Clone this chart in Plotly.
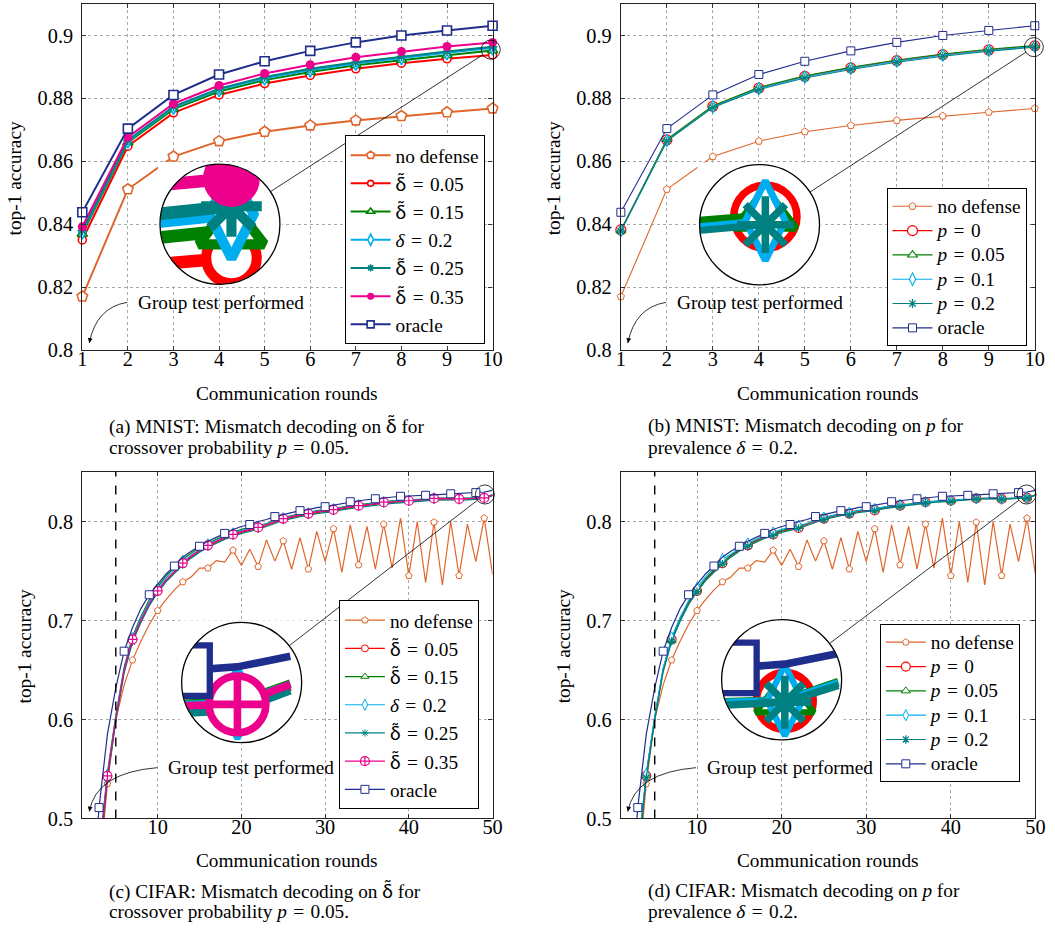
import numpy as np
import plotly.graph_objects as go

W, H = 1055, 928
FONT = "Liberation Serif"
# the page is photographed slightly reduced; layout positions are pre-compensated
S, OX = 0.986, 6.0

# ---------------------------------------------------------------- data
rounds_mnist = list(range(1, 11))
mnist_ticks_x = list(range(1, 11))
mnist_ticks_y = [0.8, 0.82, 0.84, 0.86, 0.88, 0.9]
mnist_ticks_y_text = ["0.8", "0.82", "0.84", "0.86", "0.88", "0.9"]

mnist_no_defense = [0.8170, 0.8511, 0.8615, 0.8664, 0.8694, 0.8714, 0.8730, 0.8744, 0.8756, 0.8768]
mnist_oracle = [0.8438, 0.8704, 0.8811, 0.8876, 0.8918, 0.8951, 0.8978, 0.9000, 0.9016, 0.9031]
mnist_dt005 = [0.8350, 0.8648, 0.8754, 0.8811, 0.8847, 0.8873, 0.8894, 0.8912, 0.8926, 0.8938]
mnist_dt015 = [0.8369, 0.8660, 0.8766, 0.8822, 0.8858, 0.8884, 0.8905, 0.8922, 0.8937, 0.8952]
mnist_d02 = [0.8375, 0.8664, 0.8771, 0.8828, 0.8864, 0.8890, 0.8911, 0.8929, 0.8945, 0.8960]
mnist_dt025 = [0.8380, 0.8667, 0.8774, 0.8831, 0.8868, 0.8894, 0.8915, 0.8933, 0.8949, 0.8964]
mnist_dt035 = [0.8392, 0.8677, 0.8783, 0.8841, 0.8879, 0.8907, 0.8931, 0.8949, 0.8965, 0.8978]

mnist_p0 = [0.8382, 0.8668, 0.8775, 0.8833, 0.8870, 0.8897, 0.8920, 0.8939, 0.8954, 0.8967]
mnist_p005 = [0.8380, 0.8670, 0.8777, 0.8835, 0.8872, 0.8899, 0.8922, 0.8941, 0.8956, 0.8968]
mnist_p01 = [0.8379, 0.8666, 0.8773, 0.8831, 0.8868, 0.8895, 0.8918, 0.8937, 0.8952, 0.8965]
mnist_p02 = [0.8378, 0.8664, 0.8771, 0.8828, 0.8865, 0.8892, 0.8915, 0.8934, 0.8950, 0.8963]

rounds_cifar = list(range(1, 51))
cifar_ticks_x = [10, 20, 30, 40, 50]
cifar_ticks_y = [0.5, 0.6, 0.7, 0.8]
cifar_ticks_y_text = ["0.5", "0.6", "0.7", "0.8"]

cifar_no_defense = [0.150, 0.330, 0.440, 0.535, 0.600, 0.635, 0.660, 0.679, 0.696, 0.710,
                    0.721, 0.731, 0.739, 0.744, 0.753, 0.753, 0.7605, 0.759, 0.771, 0.7555,
                    0.772, 0.7545, 0.7814, 0.760, 0.7804, 0.7518, 0.7838, 0.752, 0.790, 0.7595,
                    0.7926, 0.7487, 0.7966, 0.7561, 0.795, 0.752, 0.7973, 0.7528, 0.8034, 0.7453,
                    0.800, 0.7386, 0.7993, 0.7359, 0.800, 0.7453, 0.7973, 0.7595, 0.8034, 0.7464]
cifar_oracle = [0.220, 0.400, 0.511, 0.585, 0.632, 0.669, 0.693, 0.712, 0.726, 0.737,
                0.747, 0.755, 0.764, 0.770, 0.775, 0.780, 0.784, 0.788, 0.792, 0.795,
                0.797, 0.800, 0.802, 0.805, 0.807, 0.809, 0.811, 0.812, 0.814, 0.815,
                0.8165, 0.818, 0.820, 0.821, 0.822, 0.823, 0.824, 0.825, 0.8255, 0.8258,
                0.826, 0.8265, 0.827, 0.8275, 0.828, 0.8283, 0.8286, 0.8292, 0.8298, 0.8315]
cifar_dt005 = [0.150, 0.330, 0.458, 0.541, 0.600, 0.649, 0.680, 0.699, 0.716, 0.729,
               0.740, 0.749, 0.757, 0.764, 0.770, 0.775, 0.779, 0.783, 0.786, 0.789,
               0.791, 0.793, 0.796, 0.799, 0.802, 0.804, 0.806, 0.807, 0.809, 0.810,
               0.811, 0.8128, 0.8142, 0.8152, 0.8163, 0.8173, 0.8188, 0.8193, 0.8198, 0.8204,
               0.8213, 0.8218, 0.8226, 0.8226, 0.8226, 0.8222, 0.8227, 0.8231, 0.8233, 0.8266]
cifar_dt015 = [0.160, 0.340, 0.465, 0.546, 0.604, 0.653, 0.684, 0.704, 0.721, 0.734,
               0.745, 0.754, 0.762, 0.768, 0.774, 0.778, 0.782, 0.786, 0.789, 0.792,
               0.794, 0.796, 0.798, 0.801, 0.804, 0.806, 0.808, 0.809, 0.811, 0.812,
               0.813, 0.8145, 0.816, 0.817, 0.818, 0.819, 0.8203, 0.8208, 0.8212, 0.8216,
               0.8225, 0.823, 0.8237, 0.8236, 0.8236, 0.8233, 0.8236, 0.824, 0.8242, 0.8272]
cifar_d02 = [0.155, 0.335, 0.462, 0.544, 0.602, 0.651, 0.682, 0.702, 0.719, 0.732,
             0.743, 0.752, 0.760, 0.766, 0.772, 0.777, 0.781, 0.785, 0.788, 0.791,
             0.793, 0.795, 0.7975, 0.8005, 0.8035, 0.8055, 0.8075, 0.8085, 0.8105, 0.8115,
             0.8125, 0.814, 0.8155, 0.8165, 0.8175, 0.8185, 0.8198, 0.8203, 0.8208, 0.8213,
             0.8222, 0.8227, 0.8235, 0.8234, 0.8234, 0.823, 0.8234, 0.8238, 0.824, 0.827]
cifar_dt025 = [0.148, 0.325, 0.455, 0.539, 0.598, 0.647, 0.678, 0.698, 0.715, 0.728,
               0.739, 0.748, 0.756, 0.763, 0.769, 0.774, 0.778, 0.782, 0.785, 0.788,
               0.790, 0.792, 0.795, 0.798, 0.801, 0.803, 0.805, 0.806, 0.808, 0.809,
               0.810, 0.8118, 0.8133, 0.8143, 0.8153, 0.8163, 0.8178, 0.8183, 0.8188, 0.8193,
               0.8203, 0.8208, 0.8216, 0.8216, 0.8217, 0.8214, 0.8219, 0.8224, 0.8228, 0.826]
cifar_dt035 = [0.150, 0.330, 0.460, 0.543, 0.601, 0.650, 0.681, 0.700, 0.717, 0.730,
               0.741, 0.750, 0.758, 0.765, 0.771, 0.776, 0.780, 0.784, 0.787, 0.790,
               0.792, 0.794, 0.797, 0.800, 0.803, 0.805, 0.807, 0.808, 0.810, 0.811,
               0.812, 0.8135, 0.815, 0.816, 0.817, 0.818, 0.8195, 0.820, 0.8205, 0.821,
               0.822, 0.8225, 0.8233, 0.8232, 0.8232, 0.8228, 0.8232, 0.8236, 0.8238, 0.827]

cifar_p0 = [0.152, 0.332, 0.460, 0.543, 0.601, 0.650, 0.681, 0.701, 0.718, 0.730,
            0.741, 0.750, 0.758, 0.765, 0.771, 0.776, 0.780, 0.784, 0.787, 0.790,
            0.792, 0.7935, 0.797, 0.800, 0.803, 0.805, 0.807, 0.808, 0.810, 0.811,
            0.8112, 0.8135, 0.815, 0.816, 0.817, 0.818, 0.8195, 0.820, 0.8205, 0.821,
            0.822, 0.8225, 0.8233, 0.8232, 0.8232, 0.8228, 0.8232, 0.8236, 0.8239, 0.8268]
cifar_p005 = [0.155, 0.334, 0.461, 0.544, 0.602, 0.651, 0.680, 0.702, 0.719, 0.731,
              0.742, 0.751, 0.759, 0.766, 0.772, 0.777, 0.781, 0.785, 0.788, 0.791,
              0.793, 0.795, 0.798, 0.801, 0.804, 0.806, 0.808, 0.809, 0.811, 0.812,
              0.8125, 0.8142, 0.8155, 0.8165, 0.8175, 0.8185, 0.8198, 0.8203, 0.8208, 0.8213,
              0.8222, 0.8227, 0.8235, 0.8234, 0.8234, 0.823, 0.8234, 0.8238, 0.8241, 0.827]
cifar_p01 = [0.158, 0.338, 0.464, 0.545, 0.603, 0.652, 0.683, 0.703, 0.720, 0.733,
             0.744, 0.753, 0.762, 0.767, 0.773, 0.778, 0.782, 0.786, 0.789, 0.792,
             0.794, 0.796, 0.798, 0.801, 0.804, 0.806, 0.808, 0.809, 0.811, 0.812,
             0.8128, 0.8145, 0.8158, 0.8168, 0.8172, 0.8182, 0.8196, 0.8203, 0.8208, 0.8212,
             0.822, 0.8226, 0.8233, 0.8233, 0.8233, 0.8229, 0.8233, 0.8237, 0.8240, 0.8268]
cifar_p02 = [0.150, 0.328, 0.458, 0.541, 0.599, 0.648, 0.679, 0.699, 0.716, 0.729,
             0.740, 0.749, 0.757, 0.764, 0.770, 0.775, 0.779, 0.783, 0.786, 0.789,
             0.791, 0.793, 0.796, 0.799, 0.802, 0.804, 0.806, 0.807, 0.809, 0.810,
             0.811, 0.8128, 0.8143, 0.8153, 0.8163, 0.8173, 0.8188, 0.8193, 0.8198, 0.8203,
             0.8213, 0.8218, 0.8228, 0.8228, 0.8228, 0.8225, 0.8229, 0.8233, 0.8237, 0.8264]

EQ = "\u2004=\u2004"
DT = "<span style=\"font-family:Lato\">δ̃</span>"
labels_delta = ["no defense", f"{DT}{EQ}0.05", f"{DT}{EQ}0.15", f"<i>δ</i>{EQ}0.2",
                f"{DT}{EQ}0.25", f"{DT}{EQ}0.35", "oracle"]
labels_p = ["no defense", f"<i>p</i>{EQ}0", f"<i>p</i>{EQ}0.05", f"<i>p</i>{EQ}0.1", f"<i>p</i>{EQ}0.2",
            "oracle"]

captions = [
    [f"(a) MNIST: Mismatch decoding on {DT} for", f"crossover probability <i>p</i>{EQ}0.05."],
    ["(b) MNIST: Mismatch decoding on <i>p</i> for", f"prevalence <i>δ</i>{EQ}0.2."],
    [f"(c) CIFAR: Mismatch decoding on {DT} for", f"crossover probability <i>p</i>{EQ}0.05."],
    ["(d) CIFAR: Mismatch decoding on <i>p</i> for", f"prevalence <i>δ</i>{EQ}0.2."],
]

# ---------------------------------------------------------------- styles
C_ORANGE = "#E0652B"
C_RED = "#FF0000"
C_GREEN = "#008000"
C_CYAN = "#00AEEF"
C_TEAL = "#008080"
C_PINK = "#EC008C"
C_NAVY = "#1F2D8C"
TXT = 19.3


def sty(color, symbol, size, lw, mlw, phase=0, filled=False, lsize=None):
    return dict(color=color, symbol=symbol, size=size, lw=lw, mlw=mlw, phase=phase, filled=filled,
                lsize=lsize if lsize is not None else size)


series_a = [
    (labels_delta[0], mnist_no_defense, sty(C_ORANGE, "pentagon", 11, 2.0, 1.6, lsize=8)),
    (labels_delta[1], mnist_dt005, sty(C_RED, "circle", 8, 2.0, 1.6, lsize=6)),
    (labels_delta[2], mnist_dt015, sty(C_GREEN, "triangle-up", 9, 2.0, 1.6, lsize=7)),
    (labels_delta[3], mnist_d02, sty(C_CYAN, "diamond-tall", 10, 2.0, 1.6, lsize=8)),
    (labels_delta[4], mnist_dt025, sty(C_TEAL, "asterisk-open", 8, 2.0, 1.6, lsize=6)),
    (labels_delta[5], mnist_dt035, sty(C_PINK, "circle", 9, 2.0, 1.6, filled=True, lsize=7)),
    (labels_delta[6], mnist_oracle, sty(C_NAVY, "square", 9, 2.0, 1.6, lsize=7)),
]
series_b = [
    (labels_p[0], mnist_no_defense, sty(C_ORANGE, "pentagon", 7.5, 1.1, 1.0)),
    (labels_p[1], mnist_p0, sty(C_RED, "circle", 10, 1.1, 1.2)),
    (labels_p[2], mnist_p005, sty(C_GREEN, "triangle-up", 8.5, 1.1, 1.1)),
    (labels_p[3], mnist_p01, sty(C_CYAN, "diamond-tall", 9, 1.1, 1.1)),
    (labels_p[4], mnist_p02, sty(C_TEAL, "asterisk-open", 7.5, 1.1, 1.2)),
    (labels_p[5], mnist_oracle, sty(C_NAVY, "square", 8, 1.1, 1.0)),
]
series_c = [
    (labels_delta[0], cifar_no_defense, sty(C_ORANGE, "pentagon", 7, 1.2, 1.0, 0)),
    (labels_delta[1], cifar_dt005, sty(C_RED, "circle", 7, 1.2, 1.0, 0)),
    (labels_delta[2], cifar_dt015, sty(C_GREEN, "triangle-up", 7, 1.2, 1.0, 0)),
    (labels_delta[3], cifar_d02, sty(C_CYAN, "diamond-tall", 8, 1.2, 1.0, 0)),
    (labels_delta[4], cifar_dt025, sty(C_TEAL, "asterisk-open", 6, 1.2, 1.0, 0)),
    (labels_delta[5], cifar_dt035, sty(C_PINK, "circle-cross", 9, 1.2, 1.2, 0)),
    (labels_delta[6], cifar_oracle, sty(C_NAVY, "square", 8, 1.2, 1.0, 2)),
]
series_d = [
    (labels_p[0], cifar_no_defense, sty(C_ORANGE, "pentagon", 7, 1.2, 1.0, 0)),
    (labels_p[1], cifar_p0, sty(C_RED, "circle", 9, 1.2, 1.2, 0)),
    (labels_p[2], cifar_p005, sty(C_GREEN, "triangle-up", 8, 1.2, 1.0, 0)),
    (labels_p[3], cifar_p01, sty(C_CYAN, "diamond-tall", 8, 1.2, 1.0, 0)),
    (labels_p[4], cifar_p02, sty(C_TEAL, "asterisk-open", 7, 1.2, 1.2, 0)),
    (labels_p[5], cifar_oracle, sty(C_NAVY, "square", 8, 1.2, 1.0, 2)),
]

panels = [
    dict(n=1, x=rounds_mnist, series=series_a, every=1,
         xdom=(83.3, 493.7), ydom=(4.0, 349.3), xr=(1, 10), yr=(0.8, 0.91),
         xt=mnist_ticks_x, yt=mnist_ticks_y, ytt=mnist_ticks_y_text,
         inset=(221.0, 223.7, 60.0), spy=(9.96, 0.8955, 9.5),
         leg=dict(x=345.7, y=135.0, gap=0.5, fs=19), ytitle_x=15, ytitle_y=178,
         xtitle_y=393, cap=(108, 425, 446.7), gt=(136.7, 301.7), vline=None),
    dict(n=2, x=rounds_mnist, series=series_b, every=1,
         xdom=(622.0, 1036.0), ydom=(4.0, 349.3), xr=(1, 10), yr=(0.8, 0.91),
         xt=mnist_ticks_x, yt=mnist_ticks_y, ytt=mnist_ticks_y_text,
         inset=(760.7, 224.2, 60.0), spy=(9.98, 0.8963, 9.5),
         leg=dict(x=887.7, y=187.7, gap=0, fs=16.4), ytitle_x=555, ytitle_y=178,
         xtitle_y=393, cap=(647, 425, 446.7), gt=(675.7, 301.7), vline=None),
    dict(n=3, x=rounds_cifar, series=series_c, every=3,
         xdom=(83.3, 493.7), ydom=(471.0, 816.7), xr=(1, 50), yr=(0.5, 0.85),
         xt=cifar_ticks_x, yt=cifar_ticks_y, ytt=cifar_ticks_y_text,
         inset=(242.7, 681.0, 60.0), spy=(49.08, 0.8273, 9.5),
         leg=dict(x=340.0, y=599.0, gap=0.5, fs=19), ytitle_x=25, ytitle_y=645,
         xtitle_y=859, cap=(108, 889, 910), gt=(166.7, 766), vline=5),
    dict(n=4, x=rounds_cifar, series=series_d, every=3,
         xdom=(622.0, 1036.7), ydom=(471.0, 816.7), xr=(1, 50), yr=(0.5, 0.85),
         xt=cifar_ticks_x, yt=cifar_ticks_y, ytt=cifar_ticks_y_text,
         inset=(782.8, 678.3, 60.0), spy=(48.94, 0.8273, 9.5),
         leg=dict(x=881.0, y=622.7, gap=0, fs=16.4), ytitle_x=565, ytitle_y=645,
         xtitle_y=859, cap=(647, 889, 910), gt=(705.7, 766), vline=5),
]


def PX(px):
    return ((px - OX) / S) / W


def PY(py):
    return 1 - (py / S) / H


def marker_dict(s, scale, legend=False):
    sym = s["symbol"]
    size = (s["lsize"] if legend else s["size"] * scale)
    mlw = s["mlw"] * (1 if legend else scale)
    if s["filled"]:
        return dict(symbol=sym, size=size, color=s["color"], line=dict(width=0))
    if sym.endswith("-open"):
        return dict(symbol=sym, size=size, color=s["color"], line=dict(color=s["color"], width=mlw))
    return dict(symbol=sym, size=size, color="white", line=dict(color=s["color"], width=mlw))


fig = go.Figure()
layout = {}
shapes = []
annotations = []

axis_common = dict(showgrid=True, gridcolor="#a8a8a8", griddash="dot", gridwidth=1,
                   showline=True, linecolor="#222222", linewidth=1.2, mirror="ticks",
                   ticks="inside", ticklen=4, tickwidth=1, tickcolor="#333333",
                   zeroline=False, fixedrange=True,
                   tickfont=dict(family=FONT, size=20.3, color="black"))

for p in panels:
    n = p["n"]
    ni = n + 4
    xa, ya = ("x" if n == 1 else f"x{n}"), ("y" if n == 1 else f"y{n}")
    xai, yai = f"x{ni}", f"y{ni}"
    xd0, xd1 = p["xdom"]
    yd0, yd1 = p["ydom"]
    xr0, xr1 = p["xr"]
    yr0, yr1 = p["yr"]
    layout["xaxis" if n == 1 else f"xaxis{n}"] = dict(
        axis_common, domain=[PX(xd0), PX(xd1)], range=[xr0, xr1], anchor=ya,
        tickvals=p["xt"], ticktext=[str(v) for v in p["xt"]], ticklabelstandoff=-10)
    layout["yaxis" if n == 1 else f"yaxis{n}"] = dict(
        axis_common, domain=[PY(yd1), PY(yd0)], range=[yr0, yr1], anchor=xa,
        tickvals=p["yt"], ticktext=p["ytt"], ticklabelstandoff=4)

    # inset geometry (reference-pixel units, converted through PX/PY)
    cx, cy, r = p["inset"]
    X0, Y0, rs = p["spy"]
    sx = (xd1 - xd0) / (xr1 - xr0)
    sy = (yd1 - yd0) / (yr1 - yr0)
    hx, hy = rs / sx, rs / sy
    mag = r / rs
    layout[f"xaxis{ni}"] = dict(domain=[PX(cx - r), PX(cx + r)], range=[X0 - hx, X0 + hx],
                                anchor=yai, visible=False, fixedrange=True)
    layout[f"yaxis{ni}"] = dict(domain=[PY(cy + r), PY(cy - r)], range=[Y0 - hy, Y0 + hy],
                                anchor=xai, visible=False, fixedrange=True)

    legname = "legend" if n == 1 else f"legend{n}"
    layout[legname] = dict(x=PX(p["leg"]["x"]), y=PY(p["leg"]["y"]), xanchor="left", yanchor="top",
                           bgcolor="white", bordercolor="black", borderwidth=1,
                           font=dict(family=FONT, size=p["leg"]["fs"], color="black"),
                           tracegroupgap=p["leg"]["gap"], itemwidth=40)

    x = p["x"]
    # main traces
    for name, yv, s in p["series"]:
        fig.add_trace(go.Scatter(x=x, y=yv, mode="lines", line=dict(color=s["color"], width=s["lw"]),
                                 xaxis=xa, yaxis=ya, showlegend=False, hoverinfo="skip"))
        idx = [i for i in range(len(x)) if (x[i] - x[0]) % p["every"] == s["phase"] and yv[i] >= yr0]
        fig.add_trace(go.Scatter(x=[x[i] for i in idx], y=[yv[i] for i in idx], mode="markers",
                                 marker=marker_dict(s, 1), xaxis=xa, yaxis=ya, showlegend=False,
                                 hoverinfo="skip", cliponaxis=False))
    # legend entries
    for name, yv, s in p["series"]:
        fig.add_trace(go.Scatter(x=[None], y=[None], mode="lines+markers",
                                 name=f'<span style="font-size:{TXT}px">{name}</span>',
                                 line=dict(color=s["color"], width=s["lw"]),
                                 marker=marker_dict(s, 1, legend=True),
                                 xaxis=xa, yaxis=ya, legend=legname, legendgroup=f"{n}-{name}",
                                 showlegend=True))

    # inset: white disc then magnified traces
    t = np.linspace(0, 2 * np.pi, 181)
    fig.add_trace(go.Scatter(x=X0 + hx * np.cos(t), y=Y0 + hy * np.sin(t), mode="lines",
                             fill="toself", fillcolor="white", line=dict(width=0, color="white"),
                             xaxis=xai, yaxis=yai, showlegend=False, hoverinfo="skip"))
    for name, yv, s in p["series"]:
        fig.add_trace(go.Scatter(x=x, y=yv, mode="lines", line=dict(color=s["color"], width=s["lw"] * mag),
                                 xaxis=xai, yaxis=yai, showlegend=False, hoverinfo="skip"))
        idx = [i for i in range(len(x)) if (x[i] - x[0]) % p["every"] == s["phase"]]
        fig.add_trace(go.Scatter(x=[x[i] for i in idx], y=[yv[i] for i in idx], mode="markers",
                                 marker=marker_dict(s, mag), xaxis=xai, yaxis=yai, showlegend=False,
                                 hoverinfo="skip", cliponaxis=True))

    # mask outside the circle (square minus disc)
    m = r + 2
    sq = [(cx - m, cy - m), (cx + m, cy - m), (cx + m, cy + m), (cx - m, cy + m)]
    path = "M " + " L ".join(f"{PX(a):.6f},{PY(b):.6f}" for a, b in sq) + " Z"
    tt = np.linspace(0, -2 * np.pi, 121)
    circ = [(cx + (r - 0.3) * np.cos(a), cy + (r - 0.3) * np.sin(a)) for a in tt]
    path += " M " + " L ".join(f"{PX(a):.6f},{PY(b):.6f}" for a, b in circ) + " Z"
    shapes.append(dict(type="path", path=path, xref="paper", yref="paper", fillcolor="white",
                       line=dict(width=0), layer="above", fillrule="evenodd"))
    shapes.append(dict(type="circle", xref="paper", yref="paper", x0=PX(cx - r), x1=PX(cx + r),
                       y0=PY(cy + r), y1=PY(cy - r), line=dict(color="black", width=1.3), layer="above"))
    # spy circle and connector
    spx = xd0 + (X0 - xr0) * sx
    spy_ = yd1 - (Y0 - yr0) * sy
    shapes.append(dict(type="circle", xref="paper", yref="paper", x0=PX(spx - rs), x1=PX(spx + rs),
                       y0=PY(spy_ + rs), y1=PY(spy_ - rs), line=dict(color="black", width=0.8), layer="above"))
    vx, vy = spx - cx, spy_ - cy
    L = np.hypot(vx, vy)
    ux, uy = vx / L, vy / L
    shapes.append(dict(type="line", xref="paper", yref="paper",
                       x0=PX(cx + r * ux), y0=PY(cy + r * uy), x1=PX(spx - rs * ux), y1=PY(spy_ - rs * uy),
                       line=dict(color="black", width=0.8), layer="above"))

    # dashed vertical line
    if p["vline"] is not None:
        shapes.append(dict(type="line", xref=xa, yref=f"{ya} domain", x0=p["vline"], x1=p["vline"],
                           y0=0, y1=1, line=dict(color="black", width=1.4, dash="dash"), layer="above"))

    # "Group test performed" with curved arrow
    gx, gy = p["gt"]
    annotations.append(dict(text="Group test performed", x=PX(gx), y=PY(gy), xref="paper", yref="paper",
                            xanchor="left", yanchor="middle", showarrow=False,
                            font=dict(family=FONT, size=TXT, color="black")))
    tx, ty = gx - 8.5, gy
    hx_, hy_ = xd0 + 7, yd1 - 7
    qx, qy = hx_ + 7, ty + 5
    shapes.append(dict(type="path", xref="paper", yref="paper",
                       path=f"M {PX(tx):.6f},{PY(ty):.6f} Q {PX(qx):.6f},{PY(qy):.6f} {PX(hx_):.6f},{PY(hy_):.6f}",
                       line=dict(color="black", width=0.8), layer="above"))
    dx, dy = qx - hx_, qy - hy_
    dl = np.hypot(dx, dy)
    annotations.append(dict(text="", x=PX(hx_), y=PY(hy_), xref="paper", yref="paper", showarrow=True,
                            ax=6 * dx / dl, ay=6 * dy / dl, arrowhead=2, arrowsize=1.2, arrowwidth=0.8,
                            arrowcolor="black"))

    # axis titles
    annotations.append(dict(text="Communication rounds", x=PX((xd0 + xd1) / 2), y=PY(p["xtitle_y"]),
                            xref="paper", yref="paper", xanchor="center", yanchor="middle", showarrow=False,
                            font=dict(family=FONT, size=TXT, color="black")))
    annotations.append(dict(text="top-1 accuracy", x=PX(p["ytitle_x"]), y=PY(p["ytitle_y"]),
                            xref="paper", yref="paper", xanchor="center", yanchor="middle", showarrow=False,
                            textangle=-90, font=dict(family=FONT, size=TXT, color="black")))
    # captions
    cxp, cy1, cy2 = p["cap"]
    annotations.append(dict(text=captions[n - 1][0], x=PX(cxp), y=PY(cy1), xref="paper", yref="paper",
                            xanchor="left", yanchor="middle", showarrow=False,
                            font=dict(family=FONT, size=TXT, color="black")))
    annotations.append(dict(text=captions[n - 1][1], x=PX(cxp), y=PY(cy2), xref="paper", yref="paper",
                            xanchor="left", yanchor="middle", showarrow=False,
                            font=dict(family=FONT, size=TXT, color="black")))

fig.update_layout(**layout)
fig.update_layout(width=W, height=H, margin=dict(l=0, r=0, t=0, b=0),
                  paper_bgcolor="white", plot_bgcolor="white", showlegend=True,
                  shapes=shapes, annotations=annotations,
                  font=dict(family=FONT, color="black"))
fig.write_html("out.html",
               config={"displayModeBar": False, "responsive": False},
               post_script="document.documentElement.style.margin='0';document.body.style.margin='0';"
                           "document.body.style.padding='0';document.body.style.overflow='hidden';"
                           "document.documentElement.style.overflow='hidden';"
                           "var d=document.getElementById('{plot_id}');d.style.position='fixed';"
                           "d.style.left='0px';d.style.top='0px';")
